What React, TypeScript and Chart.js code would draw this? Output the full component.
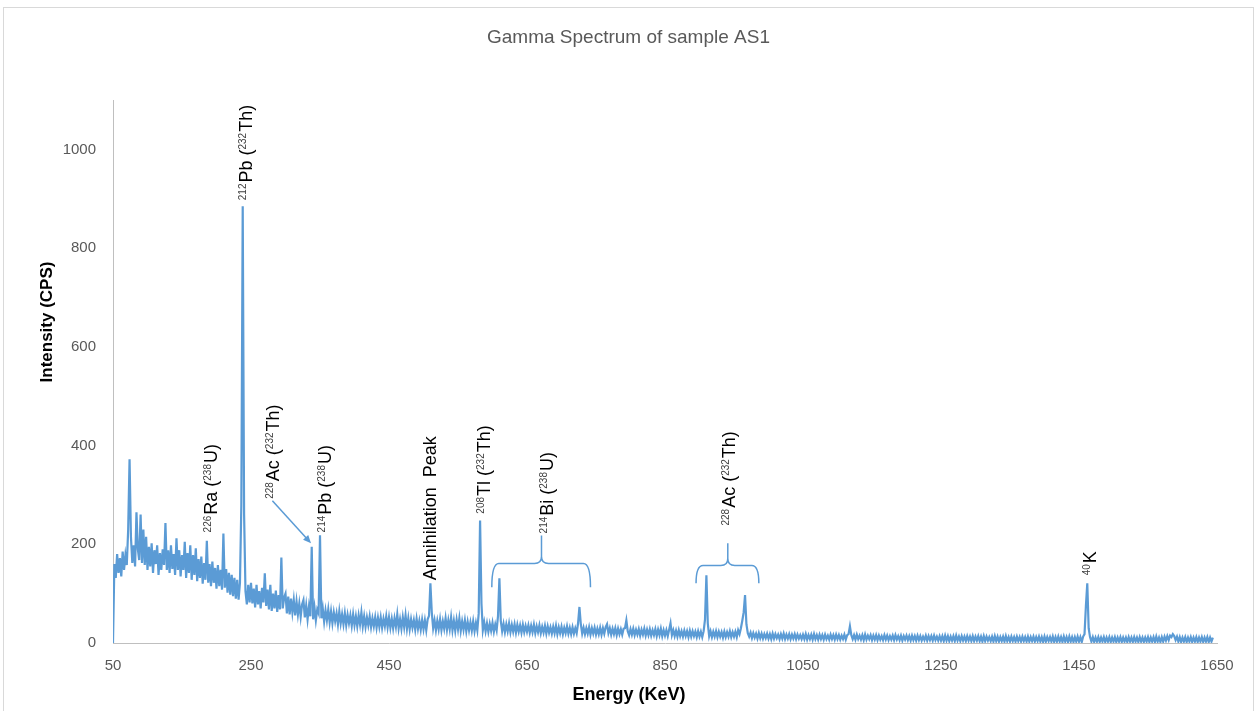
import React, { useEffect, useRef } from 'react';
import { Chart, registerables } from 'chart.js';

Chart.register(...registerables);

// ---------- Data ----------
const chartTitle = 'Gamma Spectrum of sample AS1';
const xAxisTitle = 'Energy (KeV)';
const yAxisTitle = 'Intensity (CPS)';

const xTickValues = [50, 250, 450, 650, 850, 1050, 1250, 1450, 1650];
const yTickValues = [0, 200, 400, 600, 800, 1000];

// Spectrum channels: 2 keV wide, one array per 200 keV band
const channelWidthKeV = 2;
const bandStartKeV = [50, 250, 450, 650, 850, 1050, 1250, 1450];

const counts50to250 = [
  0, 160, 132, 180, 142, 172, 135, 185, 148, 178,
  158, 230, 372, 215, 162, 198, 155, 265, 190, 168,
  260, 162, 230, 158, 215, 148, 195, 155, 202, 142,
  188, 160, 198, 138, 182, 148, 190, 158, 243, 148,
  188, 142, 198, 150, 180, 138, 212, 148, 188, 135,
  178, 148, 205, 132, 182, 142, 198, 128, 178, 138,
  192, 125, 170, 132, 175, 120, 162, 128, 207, 122,
  160, 115, 165, 122, 152, 110, 158, 115, 148, 108,
  222, 112, 150, 102, 142, 98, 138, 95, 132, 90,
  128, 88, 122, 280, 885, 260, 105, 78, 118, 82,
];
const counts250to450 = [
  122, 80, 110, 72, 118, 78, 105, 70, 112, 82,
  141, 75, 108, 68, 118, 65, 100, 70, 106, 63,
  97, 68, 173, 70, 92, 100, 60, 94, 58, 90,
  62, 87, 56, 84, 58, 80, 53, 78, 87, 52,
  76, 48, 74, 54, 195, 48, 72, 46, 68, 60,
  218, 50, 70, 43, 66, 46, 68, 42, 64, 40,
  62, 44, 60, 38, 64, 40, 58, 38, 60, 36,
  57, 40, 56, 35, 58, 36, 54, 34, 56, 38,
  62, 34, 54, 33, 52, 36, 54, 32, 50, 34,
  52, 31, 51, 33, 52, 31, 49, 34, 54, 32,
];
const counts450to650 = [
  52, 31, 49, 30, 50, 33, 58, 30, 48, 29,
  52, 32, 56, 29, 50, 28, 48, 31, 46, 27,
  49, 29, 45, 27, 47, 28, 46, 26, 48, 55,
  121, 62, 30, 46, 26, 45, 28, 48, 26, 44,
  29, 50, 27, 46, 28, 52, 26, 45, 25, 47,
  28, 50, 25, 44, 27, 46, 24, 43, 26, 42,
  25, 44, 24, 41, 26, 60, 248, 80, 26, 42,
  24, 40, 23, 39, 25, 41, 23, 38, 26, 55,
  131, 45, 24, 39, 22, 38, 24, 40, 22, 37,
  23, 38, 21, 37, 23, 36, 21, 37, 22, 35,
];
const counts650to850 = [
  23, 36, 21, 35, 22, 37, 20, 34, 22, 36,
  20, 33, 21, 35, 19, 34, 21, 32, 19, 33,
  20, 35, 18, 32, 20, 33, 18, 31, 20, 34,
  19, 31, 18, 32, 19, 30, 20, 40, 73, 38,
  19, 31, 18, 30, 19, 32, 17, 30, 19, 31,
  17, 29, 18, 31, 17, 30, 19, 32, 38, 20,
  30, 17, 29, 18, 30, 16, 29, 18, 28, 17,
  29, 30, 46, 24, 16, 28, 17, 29, 16, 27,
  17, 28, 15, 27, 17, 29, 15, 27, 16, 28,
  15, 26, 16, 28, 14, 27, 16, 29, 14, 26,
];
const counts850to1050 = [
  15, 26, 14, 27, 40, 16, 26, 14, 25, 13,
  26, 14, 24, 13, 25, 14, 24, 12, 25, 13,
  24, 14, 23, 12, 24, 13, 23, 12, 24, 48,
  137, 40, 14, 24, 12, 23, 13, 24, 12, 23,
  13, 22, 11, 23, 12, 22, 13, 24, 12, 22,
  13, 23, 12, 26, 18, 30, 45, 62, 97, 38,
  20, 13, 21, 10, 20, 11, 19, 9, 20, 10,
  19, 9, 18, 10, 19, 9, 18, 8, 19, 9,
  18, 10, 17, 8, 18, 9, 19, 8, 17, 9,
  18, 8, 17, 9, 18, 8, 17, 9, 16, 8,
];
const counts1050to1250 = [
  17, 8, 18, 7, 16, 8, 17, 7, 18, 8,
  16, 7, 17, 8, 16, 7, 17, 8, 15, 7,
  17, 8, 16, 7, 17, 8, 16, 7, 15, 8,
  17, 7, 16, 18, 34, 16, 8, 16, 7, 17,
  8, 15, 7, 16, 6, 17, 7, 15, 8, 16,
  6, 15, 7, 16, 6, 15, 7, 14, 6, 16,
  7, 15, 6, 14, 7, 15, 6, 16, 7, 14,
  6, 15, 5, 14, 7, 15, 6, 14, 5, 15,
  6, 14, 5, 15, 6, 14, 5, 13, 6, 15,
  5, 14, 6, 14, 5, 15, 6, 13, 5, 14,
];
const counts1250to1450 = [
  5, 14, 4, 15, 5, 14, 4, 13, 5, 14,
  4, 15, 5, 13, 4, 14, 5, 13, 4, 14,
  5, 13, 4, 14, 4, 13, 5, 14, 4, 13,
  3, 14, 4, 13, 5, 12, 4, 13, 3, 14,
  4, 13, 3, 12, 4, 13, 3, 14, 4, 12,
  3, 13, 4, 12, 3, 13, 4, 12, 3, 13,
  4, 12, 3, 13, 3, 12, 4, 13, 3, 12,
  4, 13, 3, 12, 2, 13, 3, 12, 4, 12,
  3, 13, 2, 12, 3, 13, 3, 12, 2, 13,
  3, 12, 2, 13, 3, 12, 2, 12, 3, 13,
];
const counts1450to1650 = [
  3, 12, 2, 13, 18, 75, 121, 30, 12, 3,
  12, 2, 11, 3, 12, 2, 11, 3, 12, 2,
  11, 3, 12, 2, 11, 3, 12, 2, 11, 3,
  12, 2, 11, 3, 11, 2, 12, 3, 11, 2,
  12, 3, 11, 2, 12, 3, 11, 2, 11, 3,
  12, 2, 11, 3, 12, 2, 13, 3, 11, 2,
  12, 3, 13, 5, 14, 6, 15, 12, 18, 14,
  6, 13, 3, 12, 2, 11, 3, 12, 2, 11,
  3, 12, 2, 11, 3, 12, 2, 11, 3, 12,
  2, 11, 3, 12, 2, 11, 3, 11,
];

const countBands = [
  counts50to250, counts250to450, counts450to650, counts650to850,
  counts850to1050, counts1050to1250, counts1250to1450, counts1450to1650,
];

// ---------- Annotation config (data coordinates) ----------
type Part = { t: string; sup?: boolean };
type PeakLabel = { energy: number; intensity: number; parts: Part[] };

const peakLabels: PeakLabel[] = [
  { energy: 252, intensity: 897, parts: [{ t: '212', sup: true }, { t: 'Pb' }, { t: ' (' }, { t: '232', sup: true }, { t: 'Th)' }] },
  { energy: 200, intensity: 224, parts: [{ t: '226', sup: true }, { t: 'Ra' }, { t: ' (' }, { t: '238', sup: true }, { t: 'U)' }] },
  { energy: 290, intensity: 292, parts: [{ t: '228', sup: true }, { t: 'Ac' }, { t: ' (' }, { t: '232', sup: true }, { t: 'Th)' }] },
  { energy: 366, intensity: 224, parts: [{ t: '214', sup: true }, { t: 'Pb' }, { t: ' (' }, { t: '238', sup: true }, { t: 'U)' }] },
  { energy: 518, intensity: 127, parts: [{ t: 'Annihilation  Peak' }] },
  { energy: 597, intensity: 262, parts: [{ t: '208', sup: true }, { t: 'Tl' }, { t: ' (' }, { t: '232', sup: true }, { t: 'Th)' }] },
  { energy: 687, intensity: 222, parts: [{ t: '214', sup: true }, { t: 'Bi' }, { t: ' (' }, { t: '238', sup: true }, { t: 'U)' }] },
  { energy: 951, intensity: 238, parts: [{ t: '228', sup: true }, { t: 'Ac' }, { t: ' (' }, { t: '232', sup: true }, { t: 'Th)' }] },
  { energy: 1474, intensity: 137, parts: [{ t: '40', sup: true }, { t: 'K' }] },
];

// arrow from the 228Ac label to the 338 keV peak
const acArrow = { fromE: 281, fromI: 288, toE: 337, toI: 202 };

// braces grouping peaks: left/right ends, tip position, levels
const braces = [
  { leftE: 599, rightE: 742, tipE: 671, lineI: 161, endI: 113, tipI: 218 },
  { leftE: 895, rightE: 986, tipE: 941, lineI: 157, endI: 121, tipI: 202 },
];

const FONT = '"Liberation Sans", Arial, sans-serif';
const BLUE = '#5B9BD5';

const decorPlugin = {
  id: 'decor',
  beforeDraw(chart: any) {
    const { ctx, width, height } = chart;
    ctx.save();
    ctx.fillStyle = '#ffffff';
    ctx.fillRect(0, 0, width, height);
    ctx.strokeStyle = '#d9d9d9';
    ctx.lineWidth = 1;
    ctx.strokeRect(3.5, 7.5, width - 7, height + 10);
    ctx.restore();
  },
  afterDatasetsDraw(chart: any) {
    const { ctx } = chart;
    const xs = chart.scales.x;
    const ys = chart.scales.y;
    const px = (e: number) => xs.getPixelForValue(e);
    const py = (v: number) => ys.getPixelForValue(v);

    ctx.save();
    for (const lab of peakLabels) {
      ctx.save();
      ctx.translate(px(lab.energy), py(lab.intensity));
      ctx.rotate(-Math.PI / 2);
      ctx.textAlign = 'left';
      ctx.textBaseline = 'alphabetic';
      let cx = 0;
      for (const part of lab.parts) {
        if (part.sup) {
          ctx.font = `10px ${FONT}`;
          ctx.fillStyle = '#404040';
          ctx.fillText(part.t, cx, -6);
          cx += ctx.measureText(part.t).width + 1;
        } else {
          ctx.font = `18px ${FONT}`;
          ctx.fillStyle = '#000000';
          ctx.fillText(part.t, cx, 0);
          cx += ctx.measureText(part.t).width;
        }
      }
      ctx.restore();
    }

    // arrow
    ctx.strokeStyle = BLUE;
    ctx.fillStyle = BLUE;
    ctx.lineWidth = 1.5;
    const x1 = px(acArrow.fromE), y1 = py(acArrow.fromI);
    const x2 = px(acArrow.toE), y2 = py(acArrow.toI);
    const ang = Math.atan2(y2 - y1, x2 - x1);
    const head = 8;
    ctx.beginPath();
    ctx.moveTo(x1, y1);
    ctx.lineTo(x2 - Math.cos(ang) * head * 0.8, y2 - Math.sin(ang) * head * 0.8);
    ctx.stroke();
    ctx.beginPath();
    ctx.moveTo(x2, y2);
    ctx.lineTo(x2 - head * Math.cos(ang) + 3.5 * Math.sin(ang), y2 - head * Math.sin(ang) - 3.5 * Math.cos(ang));
    ctx.lineTo(x2 - head * Math.cos(ang) - 3.5 * Math.sin(ang), y2 - head * Math.sin(ang) + 3.5 * Math.cos(ang));
    ctx.closePath();
    ctx.fill();

    // braces
    ctx.lineWidth = 1.5;
    for (const b of braces) {
      const xl = px(b.leftE), xr = px(b.rightE), xt = px(b.tipE);
      const ym = py(b.lineI), ye = py(b.endI), yt = py(b.tipI);
      const r = 7;
      ctx.beginPath();
      ctx.moveTo(xl, ye);
      ctx.quadraticCurveTo(xl, ym, xl + r, ym);
      ctx.lineTo(xt - r, ym);
      ctx.quadraticCurveTo(xt, ym, xt, ym - r);
      ctx.lineTo(xt, yt);
      ctx.moveTo(xt, ym - r);
      ctx.quadraticCurveTo(xt, ym, xt + r, ym);
      ctx.lineTo(xr - r, ym);
      ctx.quadraticCurveTo(xr, ym, xr, ye);
      ctx.stroke();
    }
    ctx.restore();
  },
  afterDraw(chart: any) {
    const { ctx } = chart;
    ctx.save();
    ctx.fillStyle = '#000000';
    ctx.textAlign = 'center';
    ctx.textBaseline = 'middle';
    ctx.font = `bold 18px ${FONT}`;
    ctx.fillText(xAxisTitle, 629, 695);
    ctx.translate(47, 322);
    ctx.rotate(-Math.PI / 2);
    ctx.font = `bold 17px ${FONT}`;
    ctx.fillText(yAxisTitle, 0, 0);
    ctx.restore();
  },
};

export default function App() {
  const canvasRef = useRef<HTMLCanvasElement | null>(null);

  useEffect(() => {
    if (!canvasRef.current) return;
    const spectrum = countBands.flatMap((band, b) =>
      band.map((c, i) => ({ x: bandStartKeV[b] + i * channelWidthKeV, y: c }))
    );
    const chart = new Chart(canvasRef.current, {
      type: 'line',
      data: {
        datasets: [
          {
            label: 'Spectrum',
            data: spectrum,
            borderColor: BLUE,
            backgroundColor: BLUE,
            borderWidth: 2.2,
            pointRadius: 0,
            tension: 0,
            fill: false,
          },
        ],
      },
      options: {
        responsive: false,
        animation: false,
        layout: { padding: { left: 40, right: 40, top: 0, bottom: 0 } },
        plugins: {
          legend: { display: false },
          tooltip: { enabled: false },
          title: {
            display: true,
            text: chartTitle,
            color: '#595959',
            font: { family: FONT, size: 19, weight: 'normal' },
            padding: { top: 26, bottom: 51.2 },
          },
        },
        scales: {
          x: {
            type: 'linear',
            min: 50,
            max: 1650,
            grid: { display: false, drawTicks: false },
            border: { display: true, color: '#bfbfbf', width: 1 },
            ticks: {
              color: '#595959',
              font: { family: FONT, size: 15 },
              padding: 14,
              maxRotation: 0,
              autoSkip: false,
              callback: (v: any) => String(v),
            },
            afterBuildTicks: (scale: any) => {
              scale.ticks = xTickValues.map((v) => ({ value: v }));
            },
            afterFit: (scale: any) => {
              scale.height = 68;
            },
          },
          y: {
            type: 'linear',
            min: 0,
            max: 1100,
            grid: { display: false, drawTicks: false },
            border: { display: true, color: '#bfbfbf', width: 1 },
            ticks: {
              color: '#595959',
              font: { family: FONT, size: 15 },
              padding: 17,
              callback: (v: any) => String(v),
            },
            afterBuildTicks: (scale: any) => {
              scale.ticks = yTickValues.map((v) => ({ value: v }));
            },
            afterFit: (scale: any) => {
              scale.width = 73;
            },
          },
        },
      },
      plugins: [decorPlugin],
    });
    return () => chart.destroy();
  }, []);

  return (
    <div style={{ position: 'absolute', left: 0, top: 0, width: 1257, height: 711 }}>
      <canvas ref={canvasRef} width={1257} height={711} style={{ display: 'block' }} />
    </div>
  );
}
